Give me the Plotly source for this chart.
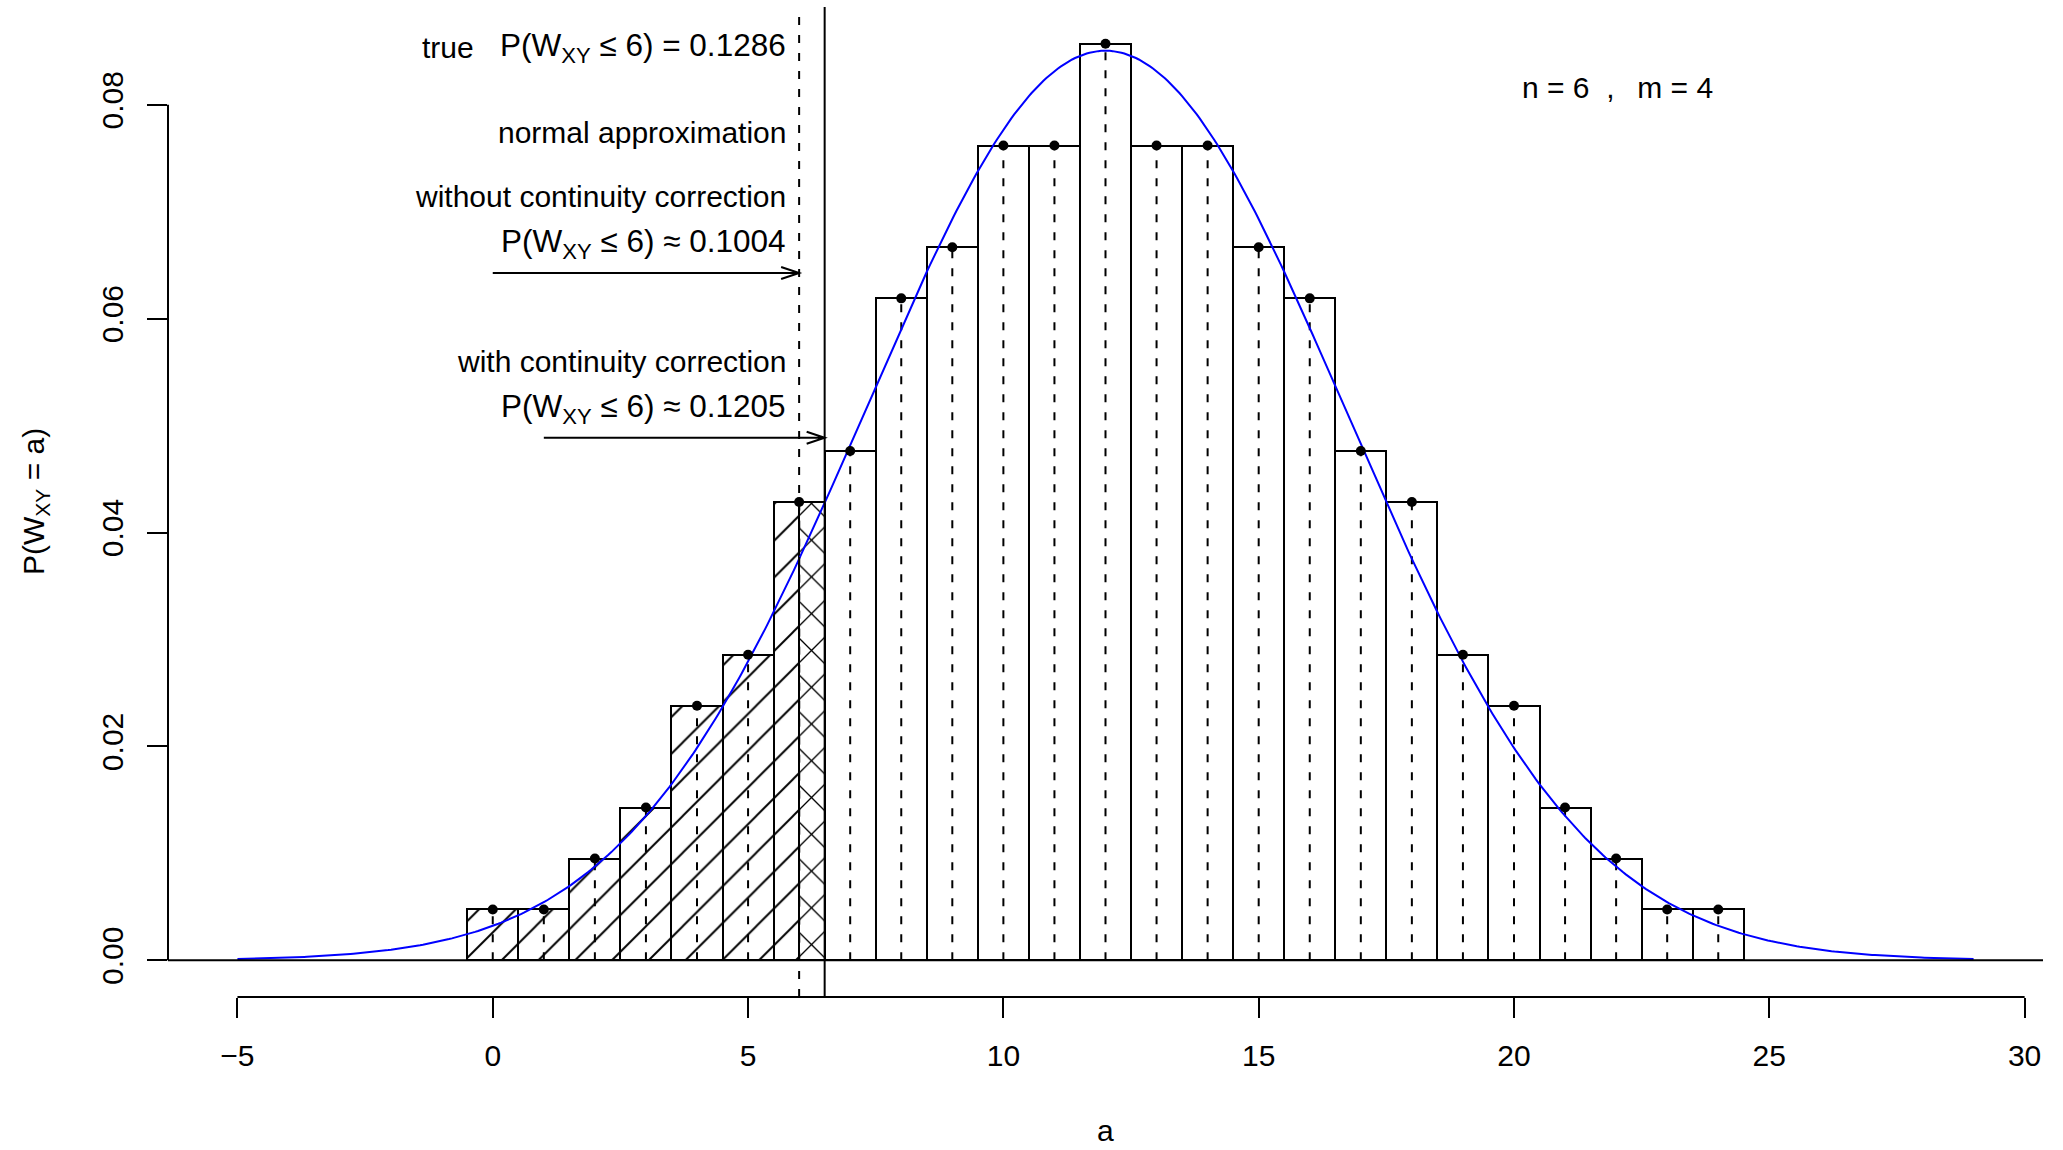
import numpy as np
import plotly.graph_objects as go

# ---- data ----
a_values = list(range(0, 25))
prob = [0.00476, 0.00476, 0.00952, 0.01429, 0.02381, 0.02857, 0.04286,
        0.04762, 0.06190, 0.06667, 0.07619, 0.07619, 0.08571, 0.07619,
        0.07619, 0.06667, 0.06190, 0.04762, 0.04286, 0.02857, 0.02381,
        0.01429, 0.00952, 0.00476, 0.00476]
cutoff = 6
mu = 12.0          # normal approximation mean  (n*m/2)
var = 22.0         # normal approximation variance n*m*(n+m+1)/12
curve_from, curve_to = -5, 29
x_ticks = [-5, 0, 5, 10, 15, 20, 25, 30]
y_ticks = [0.00, 0.02, 0.04, 0.06, 0.08]
y_tick_labels = ["0.00", "0.02", "0.04", "0.06", "0.08"]
label_true = "P(W<sub>XY</sub> ≤ 6) = 0.1286"
label_nocc = "P(W<sub>XY</sub> ≤ 6) ≈ 0.1004"
label_cc = "P(W<sub>XY</sub> ≤ 6) ≈ 0.1205"

FONT = "Liberation Sans, Arial, Helvetica, sans-serif"
FS = 30
FS_EXPR = 31.5

sigma = np.sqrt(var)
xc = np.linspace(curve_from, curve_to, 600)
yc = np.exp(-0.5 * ((xc - mu) / sigma) ** 2) / (sigma * np.sqrt(2 * np.pi))

fig = go.Figure()

HATCH = 26

# bars (white, hatched for a <= cutoff)
shapes_pat = ["/" if a <= cutoff else "" for a in a_values]
fig.add_trace(go.Bar(
    x=a_values, y=prob, width=1.0,
    marker=dict(color="white", line=dict(color="black", width=2),
                pattern=dict(shape=shapes_pat, fgcolor="black", bgcolor="white",
                             size=HATCH, solidity=0.075, fillmode="replace")),
    hoverinfo="skip", showlegend=False))
# cross-hatched half bar between cutoff and cutoff+0.5
fig.add_trace(go.Bar(
    x=[cutoff + 0.25], y=[prob[a_values.index(cutoff)]], width=0.5,
    marker=dict(color="white", line=dict(color="black", width=2),
                pattern=dict(shape="x", fgcolor="black", bgcolor="white",
                             size=HATCH, solidity=0.1, fillmode="replace")),
    hoverinfo="skip", showlegend=False))

# dashed segments from baseline to each point
sx, sy = [], []
for a, p in zip(a_values, prob):
    sx += [a, a, None]
    sy += [0, p, None]
fig.add_trace(go.Scatter(x=sx, y=sy, mode="lines",
                         line=dict(color="black", width=2, dash="8px,10px"),
                         hoverinfo="skip", showlegend=False))

# normal curve
fig.add_trace(go.Scatter(x=xc, y=yc, mode="lines",
                         line=dict(color="#0000FF", width=2),
                         hoverinfo="skip", showlegend=False))

# points
fig.add_trace(go.Scatter(x=a_values, y=prob, mode="markers",
                         marker=dict(color="black", size=10),
                         hoverinfo="skip", showlegend=False))

xr = [-6.36, 30.36]
yr = [-0.003429, 0.089143]
px_x = 1875 / (xr[1] - xr[0])
px_y = 990 / (yr[1] - yr[0])

shapes = []
# baseline
shapes.append(dict(type="line", xref="paper", yref="y", x0=0, x1=1, y0=0, y1=0,
                   line=dict(color="black", width=2)))
# vertical lines
shapes.append(dict(type="line", xref="x", yref="paper", x0=cutoff, x1=cutoff, y0=0, y1=1,
                   line=dict(color="black", width=2, dash="8px,10px")))
shapes.append(dict(type="line", xref="x", yref="paper", x0=cutoff + 0.5, x1=cutoff + 0.5,
                   y0=0, y1=1, line=dict(color="black", width=2)))
# axis lines (R style, only between extreme ticks)
shapes.append(dict(type="line", xref="x", yref="paper", x0=x_ticks[0], x1=x_ticks[-1],
                   y0=0, y1=0, line=dict(color="black", width=2)))
shapes.append(dict(type="line", xref="paper", yref="y", x0=0, x1=0, y0=y_ticks[0],
                   y1=y_ticks[-1], line=dict(color="black", width=2)))


def arrow(x0, x1, y):
    hl = 18 / px_x
    hw = 6 / px_y
    path = (f"M{x0},{y} L{x1},{y} M{x1 - hl},{y + hw} L{x1},{y} L{x1 - hl},{y - hw}")
    return dict(type="path", xref="x", yref="y", path=path,
                line=dict(color="black", width=2))


y_arrow1 = 0.06427
y_arrow2 = 0.04886
shapes.append(arrow(0, cutoff, y_arrow1))
shapes.append(arrow(1, cutoff + 0.5, y_arrow2))

ann = []


def txt(x, y, s, xanchor="right", xshift=-11, size=FS):
    ann.append(dict(x=x, y=y, xref="x", yref="y", text=s, showarrow=False,
                    xanchor=xanchor, yanchor="middle", xshift=xshift,
                    font=dict(family=FONT, size=size, color="black")))


txt(cutoff, 0.08536, label_true, size=FS_EXPR)
txt(-1.42, 0.08536, "true", xanchor="left", xshift=0)
txt(cutoff, 0.07742, "normal approximation")
txt(cutoff, 0.07140, "without continuity correction")
txt(cutoff, 0.06705, label_nocc, size=FS_EXPR)
txt(cutoff, 0.05598, "with continuity correction")
txt(cutoff, 0.05164, label_cc, size=FS_EXPR)
ann.append(dict(x=22.03, y=0.08160, xref="x", yref="y",
                text="n = 6\u00a0\u00a0,\u00a0\u00a0\u2009m = 4", showarrow=False,
                xanchor="center", yanchor="middle",
                font=dict(family=FONT, size=FS, color="black")))
# axis titles
ann.append(dict(x=0.5, y=(997 - 1130) / 990, xref="paper", yref="paper", text="a",
                showarrow=False, xanchor="center", yanchor="middle",
                font=dict(family=FONT, size=FS, color="black")))
ann.append(dict(x=(35 - 168) / 1875, y=0.5, xref="paper", yref="paper",
                text="P(W<sub>XY</sub> = a)", showarrow=False, textangle=-90,
                xanchor="center", yanchor="middle",
                font=dict(family=FONT, size=FS, color="black")))

fig.update_layout(
    width=2063, height=1150, autosize=False,
    margin=dict(l=168, r=20, t=7, b=153, pad=0),
    plot_bgcolor="white", paper_bgcolor="white",
    barmode="overlay", bargap=0,
    shapes=shapes, annotations=ann,
    font=dict(family=FONT, size=FS, color="black"),
    xaxis=dict(range=xr, showgrid=False, zeroline=False, showline=False,
               ticks="outside", ticklen=20, tickwidth=2, tickcolor="black",
               tickvals=x_ticks, ticktext=[str(v).replace("-", "\u2212") for v in x_ticks],
               tickfont=dict(family=FONT, size=FS), ticklabelstandoff=12),
    yaxis=dict(range=yr, showgrid=False, zeroline=False, showline=False,
               ticks="outside", ticklen=20, tickwidth=2, tickcolor="black",
               tickvals=y_ticks, ticktext=y_tick_labels, tickangle=-90,
               tickfont=dict(family=FONT, size=FS), ticklabelstandoff=12),
)

fig.write_html("out.html")
